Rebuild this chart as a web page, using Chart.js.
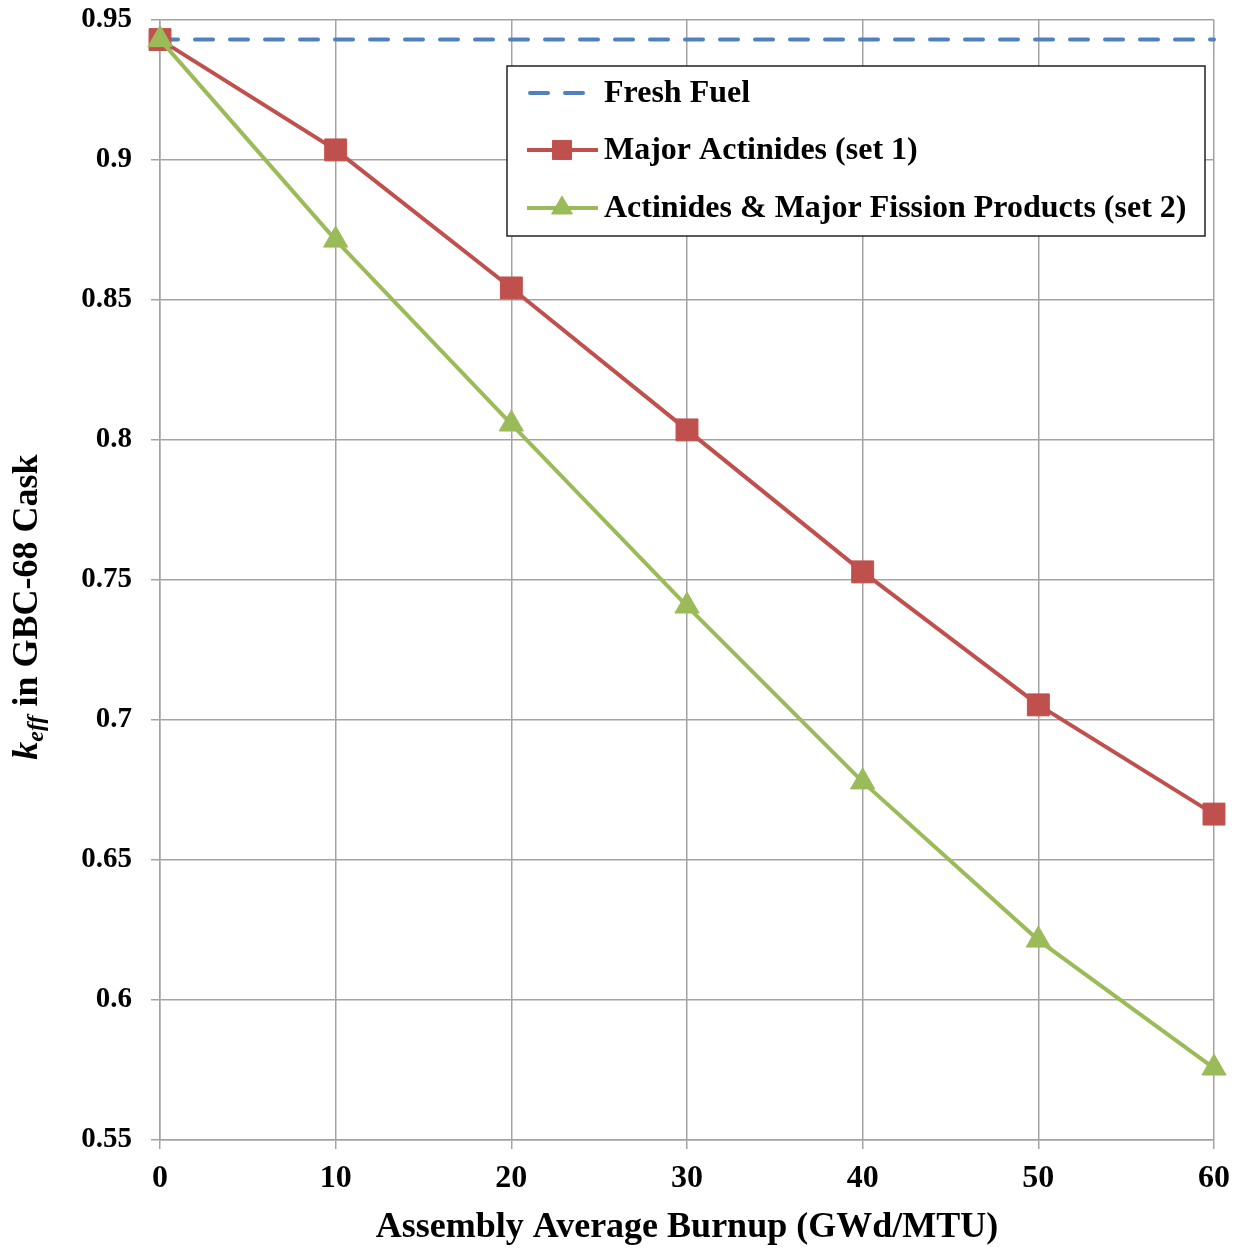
<!DOCTYPE html>
<html>
<head>
<meta charset="utf-8">
<script src="https://cdn.jsdelivr.net/npm/chart.js@4.4.0/dist/chart.umd.min.js"></script>
<style>
  html, body { margin: 0; padding: 0; background: #fff; }
  #wrap { width: 1244px; height: 1249px; }
</style>
</head>
<body>
<div id="wrap"><canvas id="keff"></canvas></div>
<script>
// burnup steps (GWd/MTU)
const burnup = [0, 10, 20, 30, 40, 50, 60];
// k_eff values
const freshFuel = [0.943, 0.943, 0.943, 0.943, 0.943, 0.943, 0.943];
const majorActinides = [0.943, 0.9036, 0.8543, 0.8036, 0.7529, 0.7054, 0.6664];
const actinidesFP = [0.943, 0.8714, 0.8057, 0.7407, 0.6779, 0.6214, 0.5757];
const seriesNames = ['Fresh Fuel', 'Major Actinides (set 1)', 'Actinides & Major Fission Products (set 2)'];

const SERIF = '"Liberation Serif", "Times New Roman", serif';
const gridColor = '#a3a3a3';

function toPoints(vals) {
    return burnup.map((b, i) => ({ x: b, y: vals[i] }));
}

// y-axis title with italic k_eff
const yTitlePlugin = {
    id: 'yTitle',
    afterDraw(chart) {
        const ctx = chart.ctx;
        ctx.save();
        ctx.translate(28, 607);
        ctx.rotate(-Math.PI / 2);
        ctx.fillStyle = '#000';
        ctx.textBaseline = 'middle';
        const big = 'bold 36px ' + SERIF;
        const bigI = 'italic bold 36px ' + SERIF;
        const small = 'italic bold 24px ' + SERIF;
        const parts = [
            { t: 'k', f: bigI, dy: 0 },
            { t: 'eff', f: small, dy: 9 },
            { t: ' in GBC-68 Cask', f: big, dy: 0 }
        ];
        let w = 0;
        parts.forEach(p => { ctx.font = p.f; w += ctx.measureText(p.t).width; });
        let x = -w / 2;
        parts.forEach(p => {
            ctx.font = p.f;
            ctx.fillText(p.t, x, p.dy);
            x += ctx.measureText(p.t).width;
        });
        ctx.restore();
    }
};

// boxed legend like the original
const legendBoxPlugin = {
    id: 'legendBox',
    afterDraw(chart) {
        const ctx = chart.ctx;
        const box = { x: 507, y: 66, w: 698, h: 170 };
        ctx.save();
        ctx.fillStyle = '#fff';
        ctx.fillRect(box.x, box.y, box.w, box.h);
        ctx.strokeStyle = '#222';
        ctx.lineWidth = 1.5;
        ctx.strokeRect(box.x, box.y, box.w, box.h);
        const rows = [93, 150, 208];
        chart.data.datasets.forEach((ds, i) => {
            const y = rows[i];
            ctx.strokeStyle = ds.borderColor;
            ctx.lineWidth = ds.borderWidth;
            ctx.setLineDash(ds.borderDash || []);
            ctx.lineCap = ds.borderDash ? 'round' : 'butt';
            ctx.beginPath();
            if (ds.borderDash) {
                ctx.moveTo(530, y); ctx.lineTo(583, y);
            } else {
                ctx.moveTo(527, y); ctx.lineTo(598, y);
            }
            ctx.stroke();
            ctx.setLineDash([]);
            if (ds.pointRadius > 0) {
                ctx.fillStyle = ds.backgroundColor;
                ctx.strokeStyle = ds.borderColor;
                ctx.lineWidth = 1;
                Chart.helpers.drawPoint(ctx, {
                    pointStyle: ds.pointStyle, radius: ds.pointRadius - 2, borderWidth: 1
                }, 562, y);
            }
            ctx.fillStyle = '#000';
            ctx.font = 'bold 32px ' + SERIF;
            ctx.textBaseline = 'middle';
            ctx.textAlign = 'left';
            ctx.fillText(ds.label, 604, y + 1);
        });
        ctx.restore();
    }
};

new Chart(document.getElementById('keff'), {
    type: 'line',
    data: {
        datasets: [
            {
                label: seriesNames[0],
                data: toPoints(freshFuel),
                borderColor: '#4F81BD',
                backgroundColor: '#4F81BD',
                borderWidth: 4,
                borderDash: [18, 17],
                borderCapStyle: 'round',
                pointRadius: 0,
                clip: false,
                order: 3
            },
            {
                label: seriesNames[1],
                data: toPoints(majorActinides),
                borderColor: '#C0504D',
                backgroundColor: '#C0504D',
                borderWidth: 4,
                pointStyle: 'rect',
                pointRadius: 15.5,
                pointBorderWidth: 1,
                clip: false,
                order: 2
            },
            {
                label: seriesNames[2],
                data: toPoints(actinidesFP),
                borderColor: '#9BBB59',
                backgroundColor: '#9BBB59',
                borderWidth: 4,
                pointStyle: 'triangle',
                pointRadius: 14,
                pointBorderWidth: 1,
                clip: false,
                order: 1
            }
        ]
    },
    options: {
        responsive: true,
        maintainAspectRatio: false,
        animation: false,
        layout: { padding: { top: 20, right: 30, left: 0, bottom: 0 } },
        plugins: {
            legend: { display: false },
            tooltip: { enabled: false }
        },
        scales: {
            x: {
                type: 'linear',
                min: 0,
                max: 60,
                ticks: {
                    stepSize: 10,
                    color: '#000',
                    padding: 11,
                    font: { family: SERIF, size: 32, weight: 'bold' }
                },
                grid: { color: gridColor, lineWidth: 1.5, tickLength: 9 },
                border: { color: gridColor, width: 1.5 },
                title: {
                    display: true,
                    text: 'Assembly Average Burnup (GWd/MTU)',
                    color: '#000',
                    font: { family: SERIF, size: 36, weight: 'bold' },
                    padding: { top: 0, bottom: 0 }
                },
                afterFit(scale) {
                    scale.height = 109;
                    scale.paddingLeft = 0;
                    scale.paddingRight = 0;
                }
            },
            y: {
                min: 0.55,
                max: 0.95,
                ticks: {
                    stepSize: 0.05,
                    color: '#000',
                    padding: 19,
                    font: { family: SERIF, size: 29, weight: 'bold' },
                    callback: v => String(Number(v.toFixed(2)))
                },
                grid: { color: gridColor, lineWidth: 1.5, tickLength: 9 },
                border: { color: gridColor, width: 1.5 },
                afterFit(scale) {
                    scale.width = 160;
                    scale.paddingTop = 0;
                    scale.paddingBottom = 0;
                }
            }
        }
    },
    plugins: [yTitlePlugin, legendBoxPlugin]
});
</script>
</body>
</html>
